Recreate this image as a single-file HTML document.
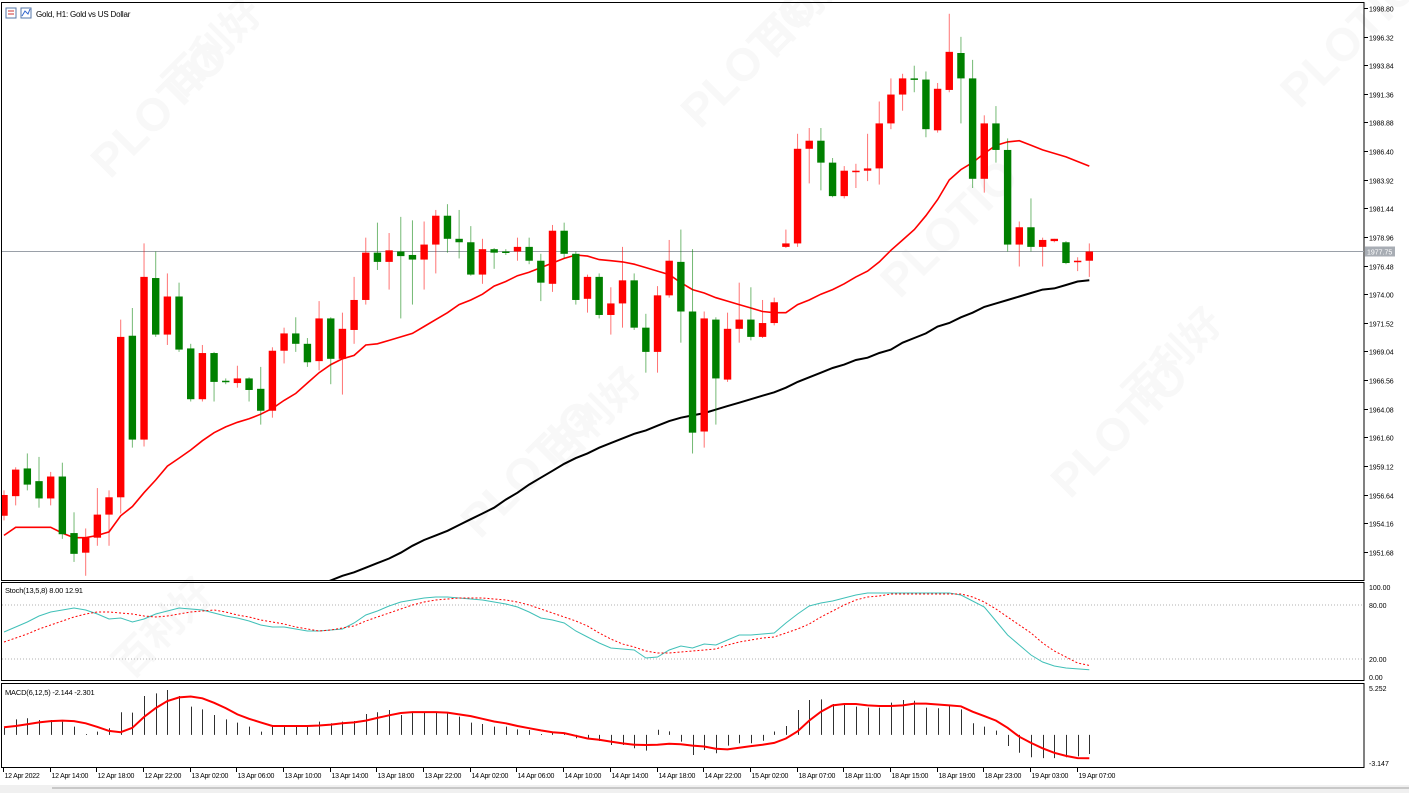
<!DOCTYPE html>
<html><head><meta charset="utf-8">
<style>
html,body{margin:0;padding:0;background:#fff;}
svg{display:block;font-family:"Liberation Sans","Noto Sans CJK SC",sans-serif;}
</style></head>
<body>
<svg id="c" width="1409" height="793" viewBox="0 0 1409 793">
  <rect x="0" y="0" width="1409" height="793" fill="#ffffff"/>
  <g id="wm" fill="#000" opacity="0.028" font-weight="bold">
    <text x="110" y="180" font-size="46" transform="rotate(-45 110 180)">PLOTIO</text>
    <text x="700" y="130" font-size="46" transform="rotate(-45 700 130)">PLOTIO</text>
    <text x="1300" y="110" font-size="46" transform="rotate(-45 1300 110)">PLOTIO</text>
    <text x="480" y="540" font-size="46" transform="rotate(-45 480 540)">PLOTIO</text>
    <text x="900" y="300" font-size="46" transform="rotate(-45 900 300)">PLOTIO</text>
    <text x="1070" y="500" font-size="46" transform="rotate(-45 1070 500)">PLOTIO</text>
    <text x="180" y="100" font-size="40" transform="rotate(-45 180 100)">百利好</text>
    <text x="770" y="60" font-size="40" transform="rotate(-45 770 60)">百利好</text>
    <text x="1140" y="410" font-size="40" transform="rotate(-45 1140 410)">百利好</text>
    <text x="560" y="470" font-size="40" transform="rotate(-45 560 470)">百利好</text>
    <text x="130" y="680" font-size="40" transform="rotate(-45 130 680)">百利好</text>
  </g>
  <g id="frames"></g>
  <g id="main"></g>
  <g id="stoch"></g>
  <g id="macd"></g>
  <g id="xaxis"></g>
  <g>
    <rect x="6" y="8" width="10" height="10" fill="none" stroke="#5577aa" stroke-width="1"/>
    <line x1="8" y1="11" x2="14" y2="11" stroke="#cc3333"/><line x1="8" y1="14" x2="14" y2="14" stroke="#cc3333"/>
    <rect x="21" y="8" width="10" height="10" fill="none" stroke="#5577aa" stroke-width="1"/>
    <polyline points="22,16 25,11 28,14 30,9" fill="none" stroke="#3366cc"/>
    <text x="36" y="17" font-size="8" letter-spacing="-0.2" fill="#000">Gold, H1:  Gold vs US Dollar</text>
  </g>
  <text x="5" y="593" font-size="7.5" letter-spacing="-0.2" fill="#000">Stoch(13,5,8) 8.00 12.91</text>
  <text x="5" y="695" font-size="7.5" letter-spacing="-0.2" fill="#000">MACD(6,12,5) -2.144 -2.301</text>
  <rect x="0" y="785" width="1409" height="8" fill="#f0f0f0"/>
  <line x1="52" y1="788" x2="1409" y2="788" stroke="#a0a0a0"/>
</svg>
<script>
// ---- data (12 Apr 10:00 -> 19 Apr 08:00, H1) ----
const opens  = [1954.8,1956.5,1958.9,1957.8,1956.3,1958.2,1953.3,1951.6,1952.9,1954.9,1956.4,1970.4,1961.4,1975.4,1970.5,1973.8,1969.3,1964.9,1968.9,1966.5,1966.3,1966.7,1965.8,1963.9,1969.1,1970.6,1969.7,1968.2,1971.9,1968.4,1970.9,1973.5,1977.6,1976.8,1977.7,1977.4,1977.0,1978.3,1980.8,1978.8,1978.5,1975.7,1977.9,1977.7,1977.7,1978.1,1976.9,1974.9,1979.5,1977.5,1973.6,1975.5,1972.2,1973.2,1975.2,1971.1,1969.0,1973.9,1976.8,1972.5,1962.1,1971.8,1966.6,1971.0,1971.8,1970.3,1971.5,1978.1,1978.4,1986.6,1987.3,1985.4,1982.5,1984.6,1984.7,1984.9,1988.8,1991.3,1992.7,1992.6,1988.2,1991.7,1994.9,1992.7,1984.0,1988.8,1986.5,1978.3,1979.8,1978.1,1978.6,1978.5,1976.8,1976.9];
const highs  = [1957.0,1959.0,1960.2,1959.9,1958.6,1959.4,1955.1,1953.7,1957.2,1957.0,1971.8,1972.8,1978.4,1977.7,1975.8,1975.0,1969.7,1969.6,1969.0,1966.7,1967.8,1966.8,1967.7,1969.4,1971.1,1972.0,1970.2,1973.4,1972.0,1972.4,1975.5,1978.9,1980.2,1979.3,1980.7,1980.4,1980.3,1981.3,1981.8,1981.3,1979.9,1978.8,1978.0,1977.9,1978.9,1978.9,1977.5,1980.0,1980.2,1977.7,1975.7,1975.8,1974.6,1978.1,1975.8,1972.3,1974.7,1978.7,1979.6,1977.9,1972.5,1972.0,1972.4,1975.0,1974.6,1973.5,1973.7,1979.6,1987.9,1988.4,1988.4,1985.8,1985.1,1985.3,1987.9,1990.7,1992.7,1993.1,1993.8,1993.3,1992.3,1998.3,1996.3,1994.3,1989.5,1990.3,1987.5,1980.3,1982.3,1978.9,1978.8,1978.6,1977.2,1978.4];
const lows   = [1954.4,1955.7,1957.0,1955.5,1955.7,1952.8,1950.8,1949.6,1952.2,1952.2,1955.0,1960.7,1960.8,1970.3,1969.6,1969.0,1964.7,1964.7,1964.7,1966.2,1965.9,1964.7,1962.7,1963.3,1968.0,1969.0,1967.7,1967.4,1966.2,1965.3,1969.7,1973.1,1976.1,1974.4,1971.9,1973.1,1974.4,1975.8,1977.6,1977.1,1975.6,1974.9,1976.2,1977.4,1976.9,1976.6,1973.4,1974.2,1977.1,1973.1,1972.4,1971.9,1970.5,1971.1,1970.9,1967.2,1967.2,1973.7,1969.8,1960.2,1960.7,1962.7,1966.4,1969.8,1970.0,1970.2,1971.3,1978.0,1978.1,1983.6,1983.0,1982.4,1982.3,1983.2,1983.8,1983.5,1988.3,1989.9,1991.5,1987.6,1988.0,1991.5,1988.8,1983.2,1982.8,1985.4,1977.7,1976.4,1977.7,1976.4,1978.5,1976.6,1976.0,1975.5];
const closes = [1956.6,1958.8,1957.5,1956.3,1958.2,1953.2,1951.5,1952.9,1954.9,1956.4,1970.3,1961.4,1975.5,1970.5,1973.8,1969.2,1964.9,1968.9,1966.4,1966.4,1966.7,1965.7,1963.9,1969.1,1970.6,1969.7,1968.1,1971.9,1968.4,1971.0,1973.5,1977.6,1976.8,1977.8,1977.3,1977.0,1978.3,1980.8,1978.8,1978.5,1975.7,1977.9,1977.6,1977.6,1978.1,1976.9,1975.0,1979.5,1977.5,1973.5,1975.5,1972.2,1973.2,1975.2,1971.1,1969.0,1973.9,1976.9,1972.5,1962.0,1971.9,1966.7,1971.0,1971.8,1970.3,1971.5,1973.3,1978.4,1986.6,1987.3,1985.4,1982.5,1984.7,1984.7,1984.9,1988.8,1991.3,1992.7,1992.6,1988.3,1991.8,1995.0,1992.7,1984.0,1988.8,1986.5,1978.3,1979.8,1978.1,1978.7,1978.8,1976.7,1976.9,1977.7];
const maFast = [1953.1,1953.8,1953.8,1953.8,1953.8,1953.3,1952.9,1952.9,1953.1,1953.4,1954.8,1955.6,1956.8,1957.9,1959.1,1959.8,1960.5,1961.3,1962.0,1962.5,1962.9,1963.2,1963.6,1964.1,1964.8,1965.4,1966.3,1967.2,1967.9,1968.4,1968.7,1969.6,1969.7,1970.0,1970.3,1970.6,1971.2,1971.8,1972.4,1973.1,1973.5,1974.0,1974.7,1975.1,1975.6,1975.9,1976.3,1976.7,1977.1,1977.4,1977.3,1977.0,1976.9,1976.8,1976.6,1976.3,1976.0,1975.7,1975.0,1974.4,1974.1,1973.7,1973.4,1973.1,1972.8,1972.5,1972.4,1972.4,1973.1,1973.5,1974.0,1974.4,1974.9,1975.5,1976.0,1976.8,1977.8,1978.7,1979.6,1980.8,1982.2,1983.9,1984.8,1985.4,1986.2,1986.9,1987.2,1987.3,1986.9,1986.5,1986.2,1985.9,1985.5,1985.1];
const maSlowStart = 27;
const maSlow = [1948.8,1949.2,1949.6,1949.9,1950.3,1950.7,1951.1,1951.6,1952.2,1952.7,1953.1,1953.5,1954.0,1954.5,1955.0,1955.5,1956.2,1956.8,1957.5,1958.1,1958.7,1959.3,1959.8,1960.2,1960.7,1961.1,1961.5,1961.9,1962.2,1962.6,1963.0,1963.3,1963.5,1963.7,1964.0,1964.3,1964.6,1964.9,1965.2,1965.5,1965.9,1966.4,1966.8,1967.2,1967.6,1967.9,1968.3,1968.5,1968.9,1969.2,1969.8,1970.2,1970.6,1971.2,1971.5,1972.0,1972.4,1972.9,1973.2,1973.5,1973.8,1974.1,1974.4,1974.5,1974.8,1975.1,1975.2];
const stochMain = [50,55.6,61.1,67.8,72.2,74.4,76.7,74.4,70,64.4,65.6,61.1,64.4,70,73.3,76.7,75.6,74.4,71.1,67.8,65.6,62.2,57.8,55.6,55.6,53.3,51.1,51.1,52.2,53.3,60,68.9,73.3,78.9,83.3,85.6,87.8,88.9,88.9,87.8,86.7,85.6,83.3,81.1,77.8,72.2,65.6,63.3,60,51.1,44.4,37.8,32.2,31.1,30,21.1,22.2,30,34.4,32.2,36.7,35.6,41.1,46.7,46.7,47.8,48.9,60,70,78.9,82.2,84.4,87.8,91.1,93.3,93.3,93.3,93.3,93.3,93.3,93.3,93.3,91.1,84.4,77.8,62.2,46.7,35.6,24.4,16.7,12.2,10,9,8];
const stochSignal = [38.9,43.3,47.8,53.3,57.8,62.2,66.7,70,72.2,72.2,71.1,70,67.8,66.7,67.8,70,72.2,73.3,74.4,72.2,68.9,66.7,63.3,61.1,58.9,55.6,53.3,51.1,52.2,54.4,56.7,62.2,66.7,71.1,75.6,80,83.3,85.6,86.7,87.8,87.8,87.8,86.7,85.6,83.3,80,75.6,71.1,66.7,62.2,56.7,48.9,42.2,36.7,33.3,28.9,26.7,26.7,27.8,28.9,30,31.1,35.6,38.9,41.1,43.3,44.4,48.9,53.3,58.9,66.7,73.3,80,85.6,88.9,90,92.2,92.2,92.2,92.2,92.2,92.2,92.2,88.9,83.3,75.6,66.7,57.8,48.9,37.8,28.9,22.2,15.6,12.9];
const macdHist = [0.8,1.74,1.86,1.67,1.67,1.48,0.92,0.1,0.36,0.74,2.53,2.49,4.35,4.65,5.03,4.35,3.16,2.86,2.23,1.74,1.37,0.92,0.36,0.92,1.0,0.92,0.92,1.48,1.3,1.48,1.56,2.34,2.53,2.79,2.23,2.53,2.53,2.53,2.49,2.04,1.37,1.22,0.92,0.92,0.62,0.55,0.1,0.36,0.25,-0.38,-0.38,-0.68,-1.13,-1.13,-1.5,-1.76,0.57,0.4,-0.76,-2.25,-1.69,-2.06,-1.2,-0.94,-0.94,-0.65,0.38,1.0,2.79,3.91,3.98,3.46,3.53,3.16,3.05,3.05,3.61,3.91,3.83,3.05,2.98,3.24,2.86,1.3,0.92,0.48,-1.24,-2.0,-2.5,-2.6,-2.6,-2.5,-2.4,-2.14];
const macdSignal = [0.85,1.0,1.2,1.4,1.55,1.6,1.55,1.3,0.9,0.45,0.3,0.8,2.0,3.0,3.8,4.2,4.3,4.1,3.6,3.0,2.3,1.8,1.4,1.0,1.0,1.0,1.0,1.05,1.15,1.3,1.4,1.6,1.9,2.2,2.45,2.55,2.55,2.55,2.5,2.3,2.1,1.8,1.5,1.3,1.0,0.75,0.5,0.3,0.2,-0.1,-0.4,-0.55,-0.75,-0.95,-1.1,-1.13,-1.1,-1.0,-1.05,-1.2,-1.3,-1.55,-1.62,-1.45,-1.25,-1.1,-0.9,-0.4,0.4,1.6,2.6,3.3,3.46,3.46,3.3,3.24,3.24,3.3,3.5,3.5,3.4,3.3,3.2,2.6,2.1,1.6,0.8,-0.2,-0.9,-1.5,-2.0,-2.35,-2.6,-2.62];
const timeLabels = ["12 Apr 2022","12 Apr 14:00","12 Apr 18:00","12 Apr 22:00","13 Apr 02:00","13 Apr 06:00","13 Apr 10:00","13 Apr 14:00","13 Apr 18:00","13 Apr 22:00","14 Apr 02:00","14 Apr 06:00","14 Apr 10:00","14 Apr 14:00","14 Apr 18:00","14 Apr 22:00","15 Apr 02:00","18 Apr 07:00","18 Apr 11:00","18 Apr 15:00","18 Apr 19:00","18 Apr 23:00","19 Apr 03:00","19 Apr 07:00"];
const priceTicks = [1998.80,1996.32,1993.84,1991.36,1988.88,1986.40,1983.92,1981.44,1978.96,1976.48,1974.00,1971.52,1969.04,1966.56,1964.08,1961.60,1959.12,1956.64,1954.16,1951.68];
const lastPrice = 1977.75;

// ---- scales ----
const NS = "http://www.w3.org/2000/svg";
const PLOT_R = 1364;
const xOf = i => 4 + i * 11.67;
const yPrice = p => 8 + (1998.80 - p) * 11.54;
const yStoch = v => 677 - v * 0.9;
const yMacd = v => 688 + (5.252 - v) * 8.93;
function mk(tag, attrs, parent){ const e=document.createElementNS(NS,tag); for(const k in attrs) e.setAttribute(k,attrs[k]); parent.appendChild(e); return e; }

const fr = document.getElementById('frames');
let f;
f = mk('rect',{x:1.5,y:2.5,width:PLOT_R-1.5,height:578,fill:'none',stroke:'#000','stroke-width':1},fr);


f = mk('rect',{x:1.5,y:582.5,width:PLOT_R-1.5,height:98,fill:'none',stroke:'#000','stroke-width':1},fr);


f = mk('rect',{x:1.5,y:683.5,width:PLOT_R-1.5,height:84,fill:'none',stroke:'#000','stroke-width':1},fr);



const mg = document.getElementById('main');
priceTicks.forEach(p=>{
  const y = Math.round(yPrice(p))+0.5;
  const t = mk('line',{x1:PLOT_R,y1:y,x2:PLOT_R+4,y2:y,stroke:'#000'},mg);
  
  
  const l = mk('text',{x:PLOT_R+5,y:y+3,'font-size':7,'letter-spacing':-0.1,fill:'#000'},mg);
  l.textContent = p.toFixed(2);
  
  
});
const ly = Math.round(yPrice(lastPrice))+0.5;
let el = mk('line',{x1:2,y1:ly,x2:PLOT_R,y2:ly,stroke:'#9aa0a8','stroke-width':1},mg);


el = mk('rect',{x:PLOT_R+1,y:ly-5,width:30,height:10,fill:'#a8adb4'},mg);


el = mk('text',{x:PLOT_R+3,y:ly+3,'font-size':7,fill:'#fff'},mg);
el.textContent = lastPrice.toFixed(2);



const defs = mk('defs',{},document.getElementById('c'));
const cp = mk('clipPath',{id:'clipMain'},defs);
mk('rect',{x:2,y:3,width:PLOT_R-2,height:577},cp);
const cg = mk('g',{'clip-path':'url(#clipMain)'},mg);

function linePath(vals, start, yf){
  return vals.map((v,k)=>(k?'L':'M')+xOf(start+k).toFixed(1)+' '+yf(v).toFixed(1)).join(' ');
}
el = mk('path',{d:linePath(maSlow,maSlowStart,yPrice),fill:'none',stroke:'#000','stroke-width':2},cg);


el = mk('path',{d:linePath(maFast,0,yPrice),fill:'none',stroke:'#ff0000','stroke-width':1.6},cg);



opens.forEach((o,i)=>{
  const c = closes[i], x = xOf(i);
  const up = c >= o;
  const col = up ? '#ff0000' : '#008000';
  const g = mk('g',{},cg);
  
  
  const w = mk('line',{x1:x,y1:yPrice(highs[i]),x2:x,y2:yPrice(lows[i]),stroke:col,'stroke-width':1,opacity:0.55},g);
  
  
  const top = yPrice(Math.max(o,c)), bot = yPrice(Math.min(o,c));
  const b = mk('rect',{x:x-3.7,y:top,width:7.4,height:Math.max(1.5,bot-top),fill:col},g);
  
  
});

const sg = document.getElementById('stoch');
[[100,'100.00'],[80,'80.00'],[20,'20.00'],[0,'0.00']].forEach(([v,t])=>{
  const y = yStoch(v);
  if(v===80||v===20){
    const d = mk('line',{x1:2,y1:y,x2:PLOT_R,y2:y,stroke:'#b0b0b0','stroke-dasharray':'1,2'},sg);
    
    
  }
  const l = mk('text',{x:PLOT_R+5,y:y+3,'font-size':7,fill:'#000'},sg);
  l.textContent = t;
  
  
});
el = mk('path',{d:linePath(stochMain,0,yStoch),fill:'none',stroke:'#40c0b8','stroke-width':1},sg);


el = mk('path',{d:linePath(stochSignal,0,yStoch),fill:'none',stroke:'#ff0000','stroke-width':1,'stroke-dasharray':'2,2'},sg);



const mcg = document.getElementById('macd');
[[5.252,'5.252'],[-3.147,'-3.147']].forEach(([v,t])=>{
  const l = mk('text',{x:PLOT_R+5,y:yMacd(v)+3,'font-size':7,fill:'#000'},mcg);
  l.textContent = t;
  
  
});
const y0 = yMacd(0);
macdHist.forEach((v,i)=>{
  const x = Math.round(xOf(i))+0.5;
  const b = mk('line',{x1:x,y1:y0,x2:x,y2:yMacd(v),stroke:'#303030','stroke-width':1},mcg);
  
  
});
el = mk('path',{d:linePath(macdSignal,0,yMacd),fill:'none',stroke:'#ff0000','stroke-width':2},mcg);



const xg = document.getElementById('xaxis');
timeLabels.forEach((t,k)=>{
  const x = Math.round(xOf(k*4))-0.5;
  const tk = mk('line',{x1:x,y1:768,x2:x,y2:772,stroke:'#000'},xg);
  
  
  const l = mk('text',{x:x+1,y:778,'font-size':7,'letter-spacing':-0.25,fill:'#000'},xg);
  l.textContent = t;
  
  
});
</script>
</body></html>
